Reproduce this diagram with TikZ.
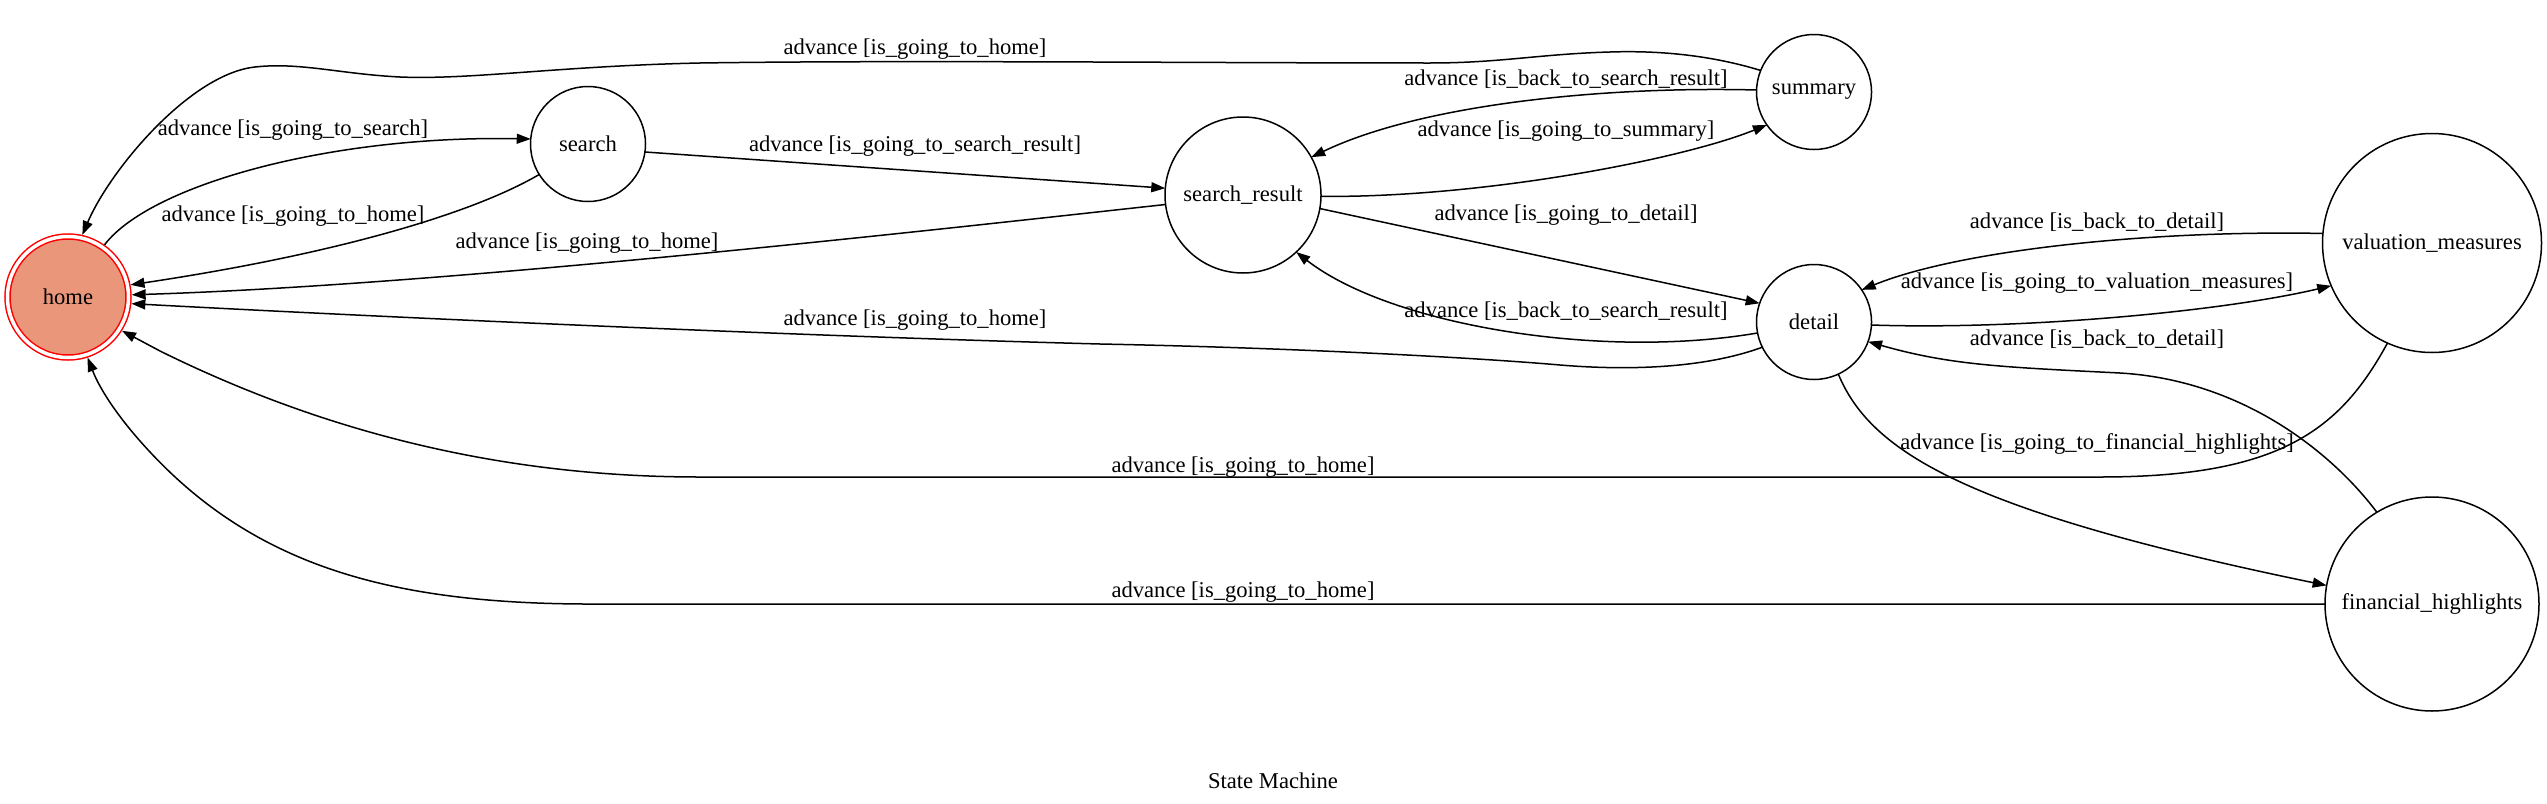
\documentclass[tikz,border=0pt]{standalone}
\usepackage{fontspec}
\setmainfont{Liberation Serif}
\usetikzlibrary{arrows.meta}
\definecolor{darksalmon}{HTML}{E9967A}
\newcommand{\lblfont}{\fontsize{11.3}{13.5}\selectfont}
\begin{document}
\begin{tikzpicture}[x=0.5pt,y=-0.5pt,
  st/.style={circle,draw,line width=0.75pt,inner sep=0pt,outer sep=0pt,font=\lblfont},
  lbl/.style={inner sep=0pt,font=\lblfont},
  edge/.style={line width=0.75pt,-{Triangle[length=7pt,width=5pt]}}]
\fill[white] (0,0) rectangle (2547,803);
\useasboundingbox (0,0) rectangle (2547,803);
% states
\node[circle,draw=red,line width=0.75pt,double=white,double distance=1.75pt,fill=darksalmon,
      minimum size=60.5pt,inner sep=0pt,outer sep=1.6pt,font=\lblfont] (home) at (68,297) {home};
\node[st,minimum size=57.5pt] (search) at (588,144) {search};
\node[st,minimum size=78pt] (search_result) at (1243,195) {search\_result};
\node[st,minimum size=57.5pt] (summary) at (1814,92) {summary};
\node[st,minimum size=57.5pt] (detail) at (1814,322) {detail};
\node[st,minimum size=109.5pt] (valuation) at (2432,243) {valuation\_measures};
\node[st,minimum size=107pt] (financial) at (2432,604) {financial\_highlights};
% edges
\draw[edge] (home.55) .. controls (150,185) and (330,135) .. (search.175);
\draw[edge] (search.212) .. controls (470,215) and (330,255) .. (home.11);
\draw[edge] (summary.158) .. controls (1720,58) and (1670,50) .. (1610,52)
   .. controls (1540,54) and (1500,63) .. (1430,63)
   .. controls (1200,63) and (900,60) .. (700,63)
   .. controls (560,66) and (470,80) .. (400,77)
   .. controls (340,74) and (300,62) .. (255,67)
   .. controls (190,74) and (110,170) .. (home.77);
\draw[edge] (search.-8) -- (search_result.175);
\draw[edge] (search_result.187) .. controls (950,228) and (450,285) .. (home.2);
\draw[edge] (search_result.-1.5) .. controls (1480,198) and (1680,160) .. (summary.215);
\draw[edge] (summary.178) .. controls (1600,86) and (1420,105) .. (search_result.29);
\draw[edge] (search_result.-10) -- (detail.161);
\draw[edge] (detail.191) .. controls (1600,360) and (1390,325) .. (search_result.-47.6);
\draw[edge] (detail.206) .. controls (1700,370) and (1620,370) .. (1560,365)
   .. controls (1480,358) and (1300,348) .. (1100,344)
   .. controls (800,336) and (400,318) .. (home.-6);
\draw[edge] (valuation.175) .. controls (2150,230) and (1960,250) .. (detail.34.5);
\draw[edge] (detail.-3) .. controls (2020,330) and (2220,312) .. (valuation.203.5);
\draw[edge] (financial.121) .. controls (2330,450) and (2240,380) .. (2120,373)
   .. controls (2000,367) and (1950,365) .. (detail.-20);
\draw[edge] (detail.-65.6) .. controls (1870,450) and (1960,510) .. (financial.170);
\draw[edge] (valuation.246) .. controls (2340,430) and (2280,477) .. (2100,477) -- (700,477)
   .. controls (520,477) and (340,440) .. (160,351) -- (home.-32);
\draw[edge] (financial.180) -- (600,604) .. controls (400,605) and (260,570) .. (150,452)
   .. controls (120,420) and (100,390) .. (home.-72);
% labels
\node[lbl] (l1) at (293,130) {advance [is\_going\_to\_search]};
\node[lbl] (l2) at (293,216) {advance [is\_going\_to\_home]};
\node[lbl] (l3) at (915,49) {advance [is\_going\_to\_home]};
\node[lbl] (l4) at (915,146) {advance [is\_going\_to\_search\_result]};
\node[lbl] (l5) at (587,243) {advance [is\_going\_to\_home]};
\node[lbl] (l6) at (1566,79) {advance [is\_back\_to\_search\_result]};
\node[lbl] (l7) at (1566,131) {advance [is\_going\_to\_summary]};
\node[lbl] (l8) at (1566,215) {advance [is\_going\_to\_detail]};
\node[lbl] (l9) at (1566,311) {advance [is\_back\_to\_search\_result]};
\node[lbl] (l10) at (915,320) {advance [is\_going\_to\_home]};
\node[lbl] (l11) at (2097,222) {advance [is\_back\_to\_detail]};
\node[lbl] (l12) at (2097,283) {advance [is\_going\_to\_valuation\_measures]};
\node[lbl] (l13) at (2097,339) {advance [is\_back\_to\_detail]};
\node[lbl] (l14) at (2097,444) {advance [is\_going\_to\_financial\_highlights]};
\node[lbl] (l15) at (1243,467) {advance [is\_going\_to\_home]};
\node[lbl] (l16) at (1243,592) {advance [is\_going\_to\_home]};
\node[lbl] (title) at (1273,781) {State Machine};
\end{tikzpicture}
\end{document}
